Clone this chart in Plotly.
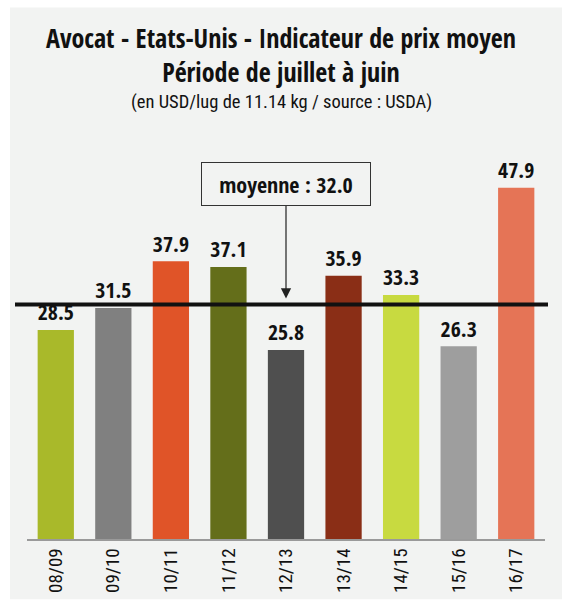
import plotly.graph_objects as go

categories = ["08/09", "09/10", "10/11", "11/12", "12/13", "13/14", "14/15", "15/16", "16/17"]
values = [28.5, 31.5, 37.9, 37.1, 25.8, 35.9, 33.3, 26.3, 47.9]
colors = ["#a9b92a", "#808080", "#e05428", "#646e1a", "#4f4f4f", "#8a2e16",
          "#c8da40", "#9e9e9e", "#e57456"]
mean_value = 32.0
mean_label = "moyenne : 32.0"

title1 = "Avocat - Etats-Unis - Indicateur de prix moyen"
title2 = "Période de juillet à juin"
subtitle = "(en USD/lug de 11.14 kg / source : USDA)"

BOLD = "Open Sans Condensed, Roboto Condensed, DejaVu Sans Condensed, sans-serif"
REG = "Roboto Condensed, DejaVu Sans Condensed, sans-serif"
BG = "#f2f3f2"

W, H = 562, 605
ML, MR, MT, MB = 27, 17, 130, 61
pw = W - ML - MR
ph = H - MT - MB

def px2paper_x(px):
    return (px - ML) / pw

def px2paper_y(py):
    return (H - MB - py) / ph

fig = go.Figure()
fig.add_trace(go.Bar(
    x=categories, y=values,
    marker=dict(color=colors, line=dict(width=0)),
    width=0.63,
    text=[f"<b>{v:.1f}</b>" for v in values],
    textposition="outside",
    textfont=dict(family=BOLD, size=23, color="#111111", weight="bold"),
    cliponaxis=False,
    hoverinfo="skip",
))

shapes = [
    dict(type="rect", xref="paper", yref="paper",
         x0=px2paper_x(10), x1=px2paper_x(562), y0=px2paper_y(605), y1=px2paper_y(6),
         fillcolor=BG, line=dict(width=0), layer="below"),
    dict(type="line", xref="paper", yref="y",
         x0=px2paper_x(15), x1=px2paper_x(548), y0=mean_value, y1=mean_value,
         line=dict(color="#111111", width=4)),
]

annotations = [
    dict(text=f"<b>{title1}</b><br><b>{title2}</b>", xref="paper", yref="paper",
         x=px2paper_x(281), y=px2paper_y(54), xanchor="center", yanchor="middle",
         showarrow=False, font=dict(family=BOLD, size=26, color="#111111", weight="bold")),
    dict(text=subtitle, xref="paper", yref="paper",
         x=px2paper_x(281), y=px2paper_y(102), xanchor="center", yanchor="middle",
         showarrow=False, font=dict(family=REG, size=18.5, color="#111111")),
    dict(text=f"<b>{mean_label}</b>", x=categories[4], y=mean_value, xref="x", yref="y",
         ax=0, ay=-120, axref="pixel", ayref="pixel",
         showarrow=True, arrowhead=2, arrowsize=1.7, arrowwidth=1.2, arrowcolor="#222222",
         standoff=6,
         width=156, height=30,
         bgcolor=BG, bordercolor="#333333", borderwidth=1, borderpad=6,
         font=dict(family=BOLD, size=22, color="#111111", weight="bold")),
]

fig.update_layout(
    width=W, height=H,
    margin=dict(l=ML, r=MR, t=MT, b=MB),
    paper_bgcolor="white",
    plot_bgcolor="rgba(0,0,0,0)",
    showlegend=False,
    shapes=shapes,
    annotations=annotations,
    xaxis=dict(
        type="category", range=[-0.5, 8.5],
        showline=True, linecolor="#9a9a9a", linewidth=1.5,
        ticks="", tickangle=-90,
        tickfont=dict(family=REG, size=19, color="#111111"),
        showgrid=False, zeroline=False,
    ),
    yaxis=dict(
        range=[0, ph / 7.42], visible=False,
        showgrid=False, zeroline=False,
    ),
)

fig.write_html("out.html", config={"displayModeBar": False},
               post_script="document.body.style.margin='0';")
